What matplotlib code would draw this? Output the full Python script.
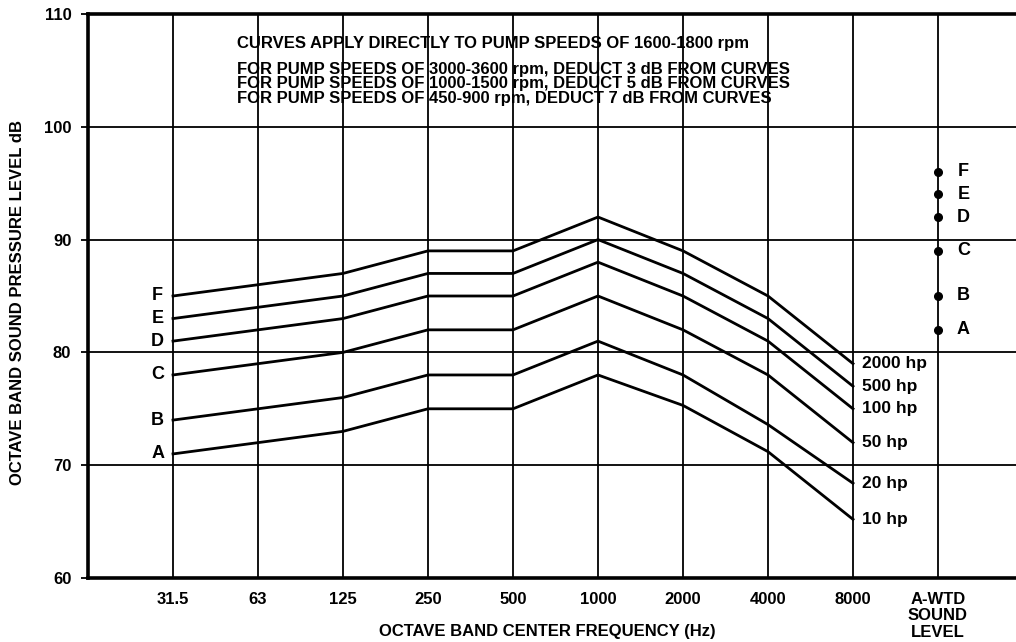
import matplotlib
matplotlib.use('Agg')
import matplotlib.pyplot as plt
import numpy as np

plt.rcParams['font.family'] = ['Liberation Sans', 'DejaVu Sans']
plt.rcParams['font.weight'] = 'bold'

# ====== data ======
freqs = ['31.5', '63', '125', '250', '500', '1000', '2000', '4000', '8000']
curve_F = [85, 86, 87, 89, 89, 92, 89, 85, 79]        # 2000 hp
curve_E = [83, 84, 85, 87, 87, 90, 87, 83, 77]        # 500 hp
curve_D = [81, 82, 83, 85, 85, 88, 85, 81, 75]        # 100 hp
curve_C = [78, 79, 80, 82, 82, 85, 82, 78, 72]        # 50 hp
curve_B = [74, 75, 76, 78, 78, 81, 78, 73.6, 68.4]    # 20 hp
curve_A = [71, 72, 73, 75, 75, 78, 75.3, 71.2, 65.2]  # 10 hp
curve_letters = ['F', 'E', 'D', 'C', 'B', 'A']
hp_labels = ['2000 hp', '500 hp', '100 hp', '50 hp', '20 hp', '10 hp']
awtd_letters = ['A', 'B', 'C', 'D', 'E', 'F']
awtd_levels = [82, 85, 89, 92, 94, 96]

notes = ['FOR PUMP SPEEDS OF 3000-3600 rpm, DEDUCT 3 dB FROM CURVES',
         'FOR PUMP SPEEDS OF 1000-1500 rpm, DEDUCT 5 dB FROM CURVES',
         'FOR PUMP SPEEDS OF 450-900 rpm, DEDUCT 7 dB FROM CURVES']

# ====== figure ======
fig = plt.figure(figsize=(10.16, 6.42), dpi=100)
ax = fig.add_axes([88/1016, 64/642, 935/1016, 564/642])

x = np.arange(1, len(freqs) + 1)
curves = [curve_F, curve_E, curve_D, curve_C, curve_B, curve_A]
for vals, let, hp in zip(curves, curve_letters, hp_labels):
    ax.plot(x, vals, color='black', lw=2, solid_joinstyle='miter')
    ax.text(x[0] - 0.18, vals[0], let, ha='center', va='center', fontsize=13)
    ax.text(x[-1] + 0.1, vals[-1], hp, ha='left', va='center', fontsize=12.5)

x_awtd = len(freqs) + 1
ax.plot([x_awtd] * len(awtd_levels), awtd_levels, 'o', color='black', ms=5.5)
for let, lv in zip(awtd_letters, awtd_levels):
    ax.text(x_awtd + 0.3, lv, let, ha='center', va='center', fontsize=13)

# ====== axes / grid ======
ax.set_xlim(0, 11)
ax.set_ylim(60, 110)
ax.set_xticks(list(x) + [x_awtd])
ax.set_xticklabels(freqs + ['A-WTD\nSOUND\nLEVEL'], fontsize=12, linespacing=1.12)
ax.set_yticks(np.arange(60, 111, 10))
ax.tick_params(axis='y', labelsize=12, length=5, width=1.3, pad=7)
ax.tick_params(axis='x', length=0, pad=10)
ax.grid(True, color='black', lw=1.3)
ax.set_axisbelow(True)
for side in ['top', 'bottom', 'left']:
    ax.spines[side].set_linewidth(2.6)
ax.spines['right'].set_visible(False)

ax.set_xlabel('OCTAVE BAND CENTER FREQUENCY (Hz)', fontsize=12, fontweight='bold')
ax.xaxis.set_label_coords(0.491, -0.081)
ax.set_ylabel('OCTAVE BAND SOUND PRESSURE LEVEL dB', fontsize=12, fontweight='bold')
ax.yaxis.set_label_coords(-0.067, 0.489)

# ====== notes ======
ax.text(1.75, 107.4, 'CURVES APPLY DIRECTLY TO PUMP SPEEDS OF 1600-1800 rpm',
        ha='left', va='center', fontsize=12)
for i, n in enumerate(notes):
    ax.text(1.75, 105.1 - i * 1.3, n, ha='left', va='center', fontsize=12)

fig.savefig('out.png', dpi=100)
